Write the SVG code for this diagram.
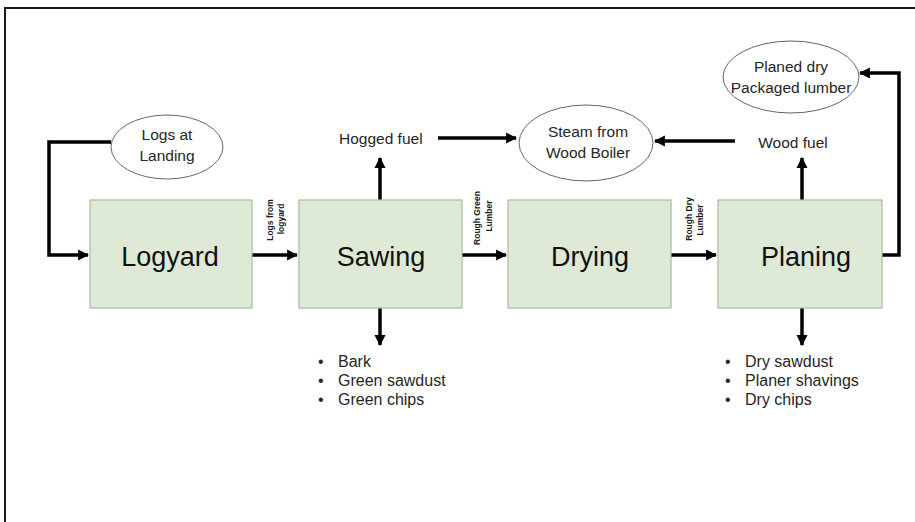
<svg xmlns="http://www.w3.org/2000/svg" width="915" height="522" viewBox="0 0 915 522">
  <style>
    .frame { fill: none; stroke: #1a1a1a; stroke-width: 2; }
    .box { fill: #deead6; stroke: #a9bd9e; stroke-width: 1.2; }
    .box-label { font-family: "Liberation Sans", Arial, sans-serif; font-size: 27px; fill: #111111; text-anchor: middle; }
    .oval { fill: #ffffff; stroke: #666666; stroke-width: 1; }
    .txt { font-family: "Liberation Sans", Arial, sans-serif; font-size: 15.5px; fill: #262626; }
    .list { font-family: "Liberation Sans", Arial, sans-serif; font-size: 16px; fill: #262626; }
    .mid { text-anchor: middle; }
    .small { font-family: "Liberation Sans", Arial, sans-serif; font-size: 8.5px; font-weight: bold; fill: #1a1a1a; text-anchor: middle; }
    .flow { fill: none; stroke: #000000; stroke-width: 3.5; }
  </style>
  <defs>
    <marker id="head" viewBox="0 0 10 10" refX="9" refY="5" markerWidth="11" markerHeight="12" markerUnits="userSpaceOnUse" orient="auto">
      <path d="M0,0 L10,5 L0,10 Z" fill="#000000"/>
    </marker>
  </defs>

  <!-- outer frame (top and left edges visible) -->
  <rect class="frame" x="5" y="8" width="1000" height="1000"/>

  <!-- connectors -->
  <g id="connectors">
    <path class="flow" d="M111,142 H49 V255 H88" marker-end="url(#head)"/>
    <path class="flow" d="M252,255 H297" marker-end="url(#head)"/>
    <path class="flow" d="M462,255 H506" marker-end="url(#head)"/>
    <path class="flow" d="M671,255 H716" marker-end="url(#head)"/>
    <path class="flow" d="M882,255 H899 V73 H860" marker-end="url(#head)"/>
    <path class="flow" d="M380,200 V158" marker-end="url(#head)"/>
    <path class="flow" d="M802,200 V158" marker-end="url(#head)"/>
    <path class="flow" d="M380,308 V345" marker-end="url(#head)"/>
    <path class="flow" d="M802,308 V345" marker-end="url(#head)"/>
    <path class="flow" d="M438,138 H516" marker-end="url(#head)"/>
    <path class="flow" d="M735,141 H655" marker-end="url(#head)"/>
  </g>

  <!-- connector labels -->
  <g id="flow-labels">
    <text class="small" transform="translate(273,220) rotate(-90)">Logs from</text>
    <text class="small" transform="translate(284,219) rotate(-90)">logyard</text>
    <text class="small" transform="translate(480,218) rotate(-90)">Rough Green</text>
    <text class="small" transform="translate(492,216) rotate(-90)">Lumber</text>
    <text class="small" transform="translate(692,219) rotate(-90)">Rough Dry</text>
    <text class="small" transform="translate(703,220) rotate(-90)">Lumber</text>
  </g>

  <!-- process boxes -->
  <g id="logyard">
    <rect class="box" x="90" y="200" width="162" height="108"/>
    <text class="box-label" x="170" y="266">Logyard</text>
  </g>
  <g id="sawing">
    <rect class="box" x="299" y="200" width="163" height="108"/>
    <text class="box-label" x="381" y="266">Sawing</text>
  </g>
  <g id="drying">
    <rect class="box" x="508" y="200" width="163" height="108"/>
    <text class="box-label" x="590" y="266">Drying</text>
  </g>
  <g id="planing">
    <rect class="box" x="718" y="200" width="164" height="108"/>
    <text class="box-label" x="806" y="266">Planing</text>
  </g>

  <!-- ovals -->
  <g id="logs-at-landing">
    <ellipse class="oval" cx="167" cy="147" rx="56" ry="32"/>
    <text class="txt mid" x="167" y="140">Logs at</text>
    <text class="txt mid" x="167" y="161">Landing</text>
  </g>
  <g id="steam">
    <ellipse class="oval" cx="586" cy="143" rx="67" ry="38"/>
    <text class="txt mid" x="588" y="137">Steam from</text>
    <text class="txt mid" x="588" y="158">Wood Boiler</text>
  </g>
  <g id="planed-dry">
    <ellipse class="oval" cx="791" cy="77" rx="68" ry="36"/>
    <text class="txt mid" x="791" y="72">Planed dry</text>
    <text class="txt mid" x="791" y="93">Packaged lumber</text>
  </g>

  <!-- fuel outputs -->
  <g id="hogged-fuel">
    <text class="txt" x="339" y="144">Hogged fuel</text>
  </g>
  <g id="wood-fuel">
    <text class="txt mid" x="793" y="148">Wood fuel</text>
  </g>

  <!-- residue lists -->
  <g id="sawing-residues">
    <text class="list" x="318" y="367">•</text>
    <text class="list" x="338" y="367">Bark</text>
    <text class="list" x="318" y="386">•</text>
    <text class="list" x="338" y="386">Green sawdust</text>
    <text class="list" x="318" y="405">•</text>
    <text class="list" x="338" y="405">Green chips</text>
  </g>
  <g id="planing-residues">
    <text class="list" x="725" y="367">•</text>
    <text class="list" x="745" y="367">Dry sawdust</text>
    <text class="list" x="725" y="386">•</text>
    <text class="list" x="745" y="386">Planer shavings</text>
    <text class="list" x="725" y="405">•</text>
    <text class="list" x="745" y="405">Dry chips</text>
  </g>
</svg>
